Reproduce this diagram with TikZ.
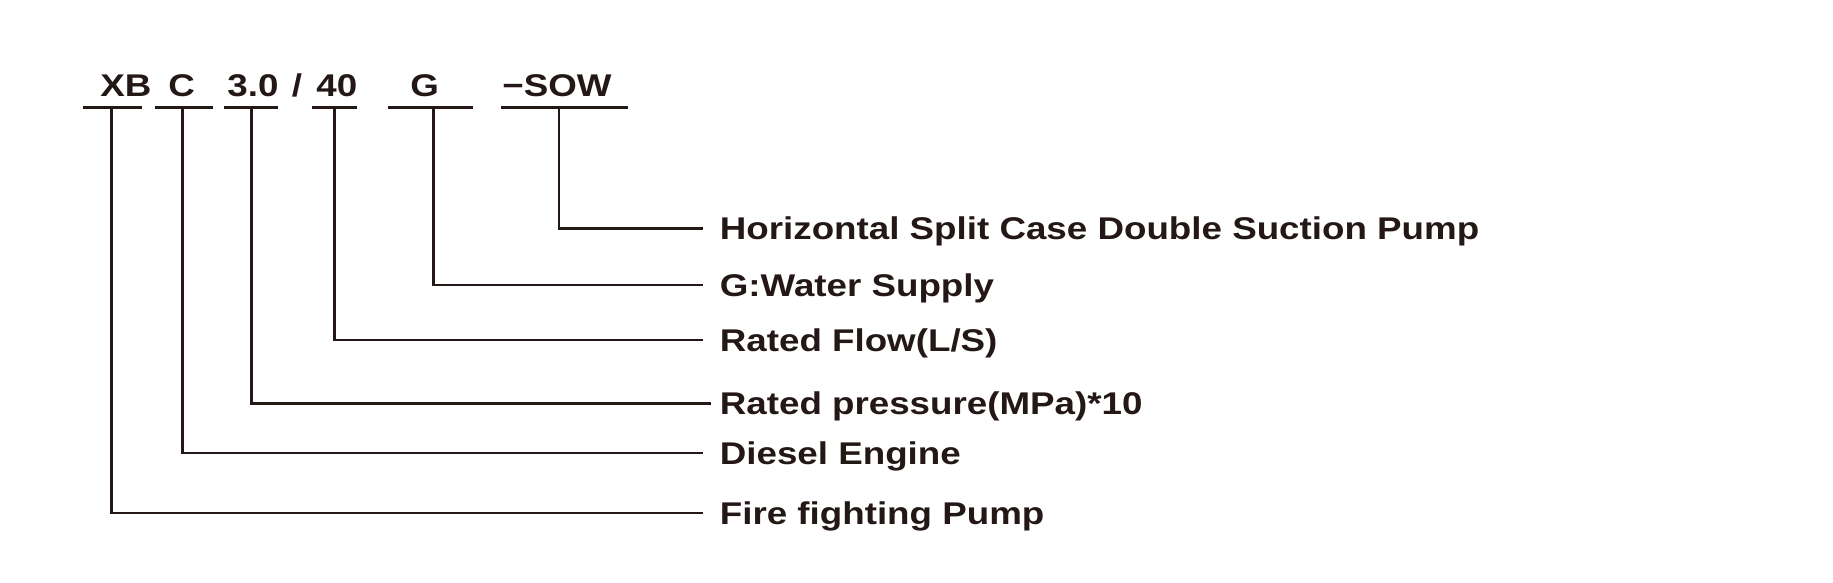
\documentclass[tikz,border=0pt]{standalone}
\usepackage{fontspec}
\setmainfont{Liberation Sans}
\newfontfamily\diagfont{Liberation Sans}[FakeStretch=1.17]
\usetikzlibrary{positioning}
\definecolor{ink}{HTML}{231815}
\tikzset{
	codetext/.style={font=\diagfont\bfseries\fontsize{15.7}{19}\selectfont, text=ink, inner sep=0pt, anchor=base west},
	meaning/.style={font=\diagfont\bfseries\fontsize{15.7}{19}\selectfont, text=ink, inner sep=0pt,
			text height=11.24pt, text depth=0pt, anchor=west},
	rule/.style={draw=ink, line width=1.35pt}
}

\begin{document}
\begin{tikzpicture}[x=0.5pt, y=-0.5pt]
		\useasboundingbox (0,0) rectangle (1833,583);

		% Parts of the model code
		\node[codetext] (XB) at (100,96.5) {XB};
		\node[codetext] (C) at (168,96.5) {C};
		\node[codetext] (P) at (227,96.5) {3.0};
		\node[codetext] (sl) at (291.5,96.5) {/};
		\node[codetext] (Q) at (316,96.5) {40};
		\node[codetext] (G) at (410,96.5) {G};
		\node[codetext] (SOW) at (502,96.5) {−SOW};

		% Underlines with their ticks
		\foreach \name/\a/\b/\t in {XB/83.3/141.7/111.7, C/155/213.3/182.7, P/224/278/251.7,
				Q/312/356.7/334.3, G/388.3/473.3/433.3, SOW/501/628.3/559} {
				\draw[rule] (\a,107.3) -- (\b,107.3);
				\coordinate (u\name) at (\t,107.3);
			}

		% Meanings
		\node[meaning] (mSOW) at (719.5,228.5) {Horizontal Split Case Double Suction Pump};
		\node[meaning] (mG) at (719.5,285) {G:Water Supply};
		\node[meaning] (mQ) at (719.5,340) {Rated Flow(L/S)};
		\node[meaning] (mP) at (719.5,403.5) {Rated pressure(MPa)*10};
		\node[meaning] (mC) at (719.5,453) {Diesel Engine};
		\node[meaning] (mXB) at (719.5,513) {Fire fighting Pump};

		% Leaders from ticks to meanings
		\foreach \name/\gap in {SOW/16.5, G/16.5, Q/16.5, P/9, C/16.5, XB/16.5} {
				\draw[rule] (u\name) |- ([xshift=-\gap*0.5pt]m\name.west);
			}
	\end{tikzpicture}
\end{document}
